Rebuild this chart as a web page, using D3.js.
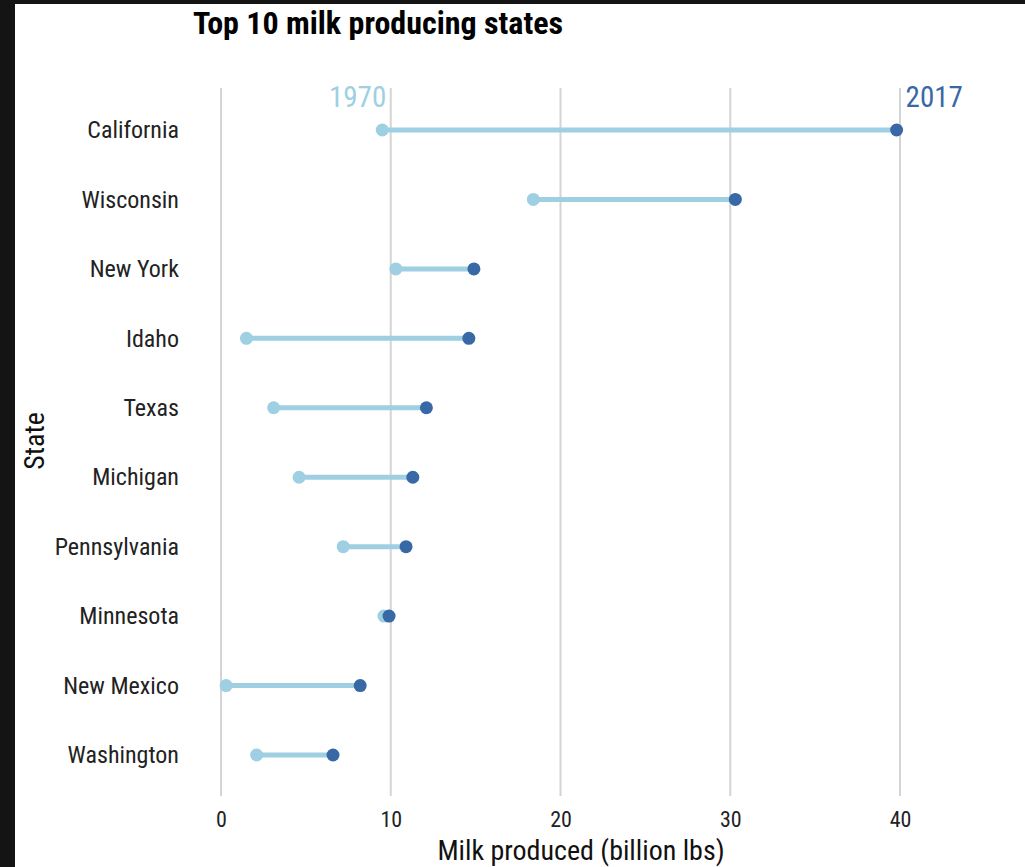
<!DOCTYPE html>
<html>
<head>
<meta charset="utf-8">
<script src="https://cdn.jsdelivr.net/npm/d3@7"></script>
<style>
  html, body { margin: 0; padding: 0; background: #141414; }
  svg { display: block; }
  text { font-family: "Roboto Condensed", "Roboto", sans-serif; }
</style>
</head>
<body>
<svg id="chart" width="1025" height="867"></svg>
<script>
// Milk production (billion lbs) for the top 10 producing states
const states = ["California", "Wisconsin", "New York", "Idaho", "Texas",
                "Michigan", "Pennsylvania", "Minnesota", "New Mexico", "Washington"];
const milk1970 = [9.5, 18.4, 10.3, 1.5, 3.1, 4.6, 7.2, 9.6, 0.3, 2.1];
const milk2017 = [39.8, 30.3, 14.9, 14.6, 12.1, 11.3, 10.9, 9.9, 8.2, 6.6];
const xTicks = [0, 10, 20, 30, 40];
const years = ["1970", "2017"];

const color1970 = "#9ecfe2";
const color2017 = "#3868a6";

const svg = d3.select("#chart");
const W = 1025, H = 867;

// white panel framed by the dark page edge
svg.append("rect").attr("x", 15).attr("y", 4).attr("width", W - 15).attr("height", H - 4).attr("fill", "#ffffff");

const x = d3.scaleLinear().domain([0, 40]).range([221, 900]);
const y = d3.scalePoint().domain(states).range([130, 755]);

const rows = states.map((s, i) => ({ state: s, a: milk1970[i], b: milk2017[i] }));

// vertical grid lines
svg.append("g")
  .selectAll("line")
  .data(xTicks)
  .join("line")
  .attr("x1", d => x(d)).attr("x2", d => x(d))
  .attr("y1", 88).attr("y2", 796)
  .attr("stroke", "#d4d4d4")
  .attr("stroke-width", 2);

// x axis tick labels
const xAxis = d3.axisBottom(x).tickValues(xTicks).tickSize(0).tickPadding(0);
const gx = svg.append("g").attr("transform", "translate(0,827)").call(xAxis);
gx.select(".domain").remove();
gx.selectAll("text")
  .attr("font-size", 22)
  .attr("fill", "#222")
  .attr("dy", "0")
  .style("font-family", "'Roboto Condensed', Roboto, sans-serif");

// y axis state labels
const yAxis = d3.axisLeft(y).tickSize(0).tickPadding(0);
const gy = svg.append("g").attr("transform", "translate(179,0)").call(yAxis);
gy.select(".domain").remove();
gy.selectAll("text")
  .attr("font-size", 24)
  .attr("fill", "#222")
  .style("font-family", "'Roboto Condensed', Roboto, sans-serif");

// connecting segments
svg.append("g")
  .selectAll("line")
  .data(rows)
  .join("line")
  .attr("x1", d => x(d.a)).attr("x2", d => x(d.b))
  .attr("y1", d => y(d.state)).attr("y2", d => y(d.state))
  .attr("stroke", color1970)
  .attr("stroke-width", 5);

// 1970 points
svg.append("g")
  .selectAll("circle")
  .data(rows)
  .join("circle")
  .attr("cx", d => x(d.a)).attr("cy", d => y(d.state))
  .attr("r", 6.5)
  .attr("fill", color1970);

// 2017 points
svg.append("g")
  .selectAll("circle")
  .data(rows)
  .join("circle")
  .attr("cx", d => x(d.b)).attr("cy", d => y(d.state))
  .attr("r", 6.5)
  .attr("fill", color2017);

// year labels above the first row
svg.append("text")
  .attr("x", x(rows[0].a) + 4).attr("y", 107)
  .attr("text-anchor", "end")
  .attr("font-size", 29)
  .attr("fill", color1970)
  .text(years[0]);
svg.append("text")
  .attr("x", x(rows[0].b) + 9).attr("y", 107)
  .attr("text-anchor", "start")
  .attr("font-size", 29)
  .attr("fill", color2017)
  .text(years[1]);

// axis titles
svg.append("text")
  .attr("x", 581).attr("y", 860)
  .attr("text-anchor", "middle")
  .attr("font-size", 28)
  .attr("fill", "#111")
  .text("Milk produced (billion lbs)");

svg.append("text")
  .attr("transform", "translate(44,441) rotate(-90)")
  .attr("text-anchor", "middle")
  .attr("font-size", 28)
  .attr("fill", "#111")
  .text("State");

// chart title
svg.append("text")
  .attr("x", 193).attr("y", 34)
  .attr("font-size", 32)
  .attr("font-weight", "bold")
  .attr("fill", "#000")
  .text("Top 10 milk producing states");
</script>
</body>
</html>
